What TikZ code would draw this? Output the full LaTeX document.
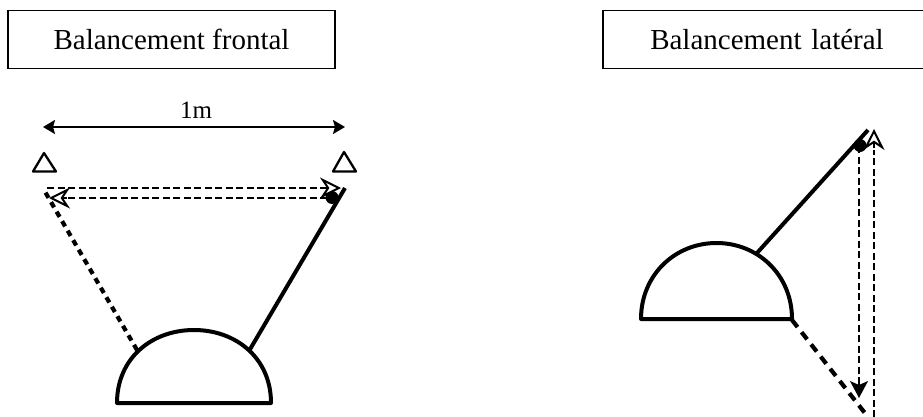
\documentclass[tikz,border=0pt]{standalone}
\usepackage{fontspec}
\setmainfont{Liberation Serif}
\usetikzlibrary{arrows.meta}
\tikzset{
  titlebox/.style={draw,line width=1.3pt,minimum height=58pt,inner sep=0pt,font=\fontsize{29}{32}\selectfont},
  solidarm/.style={line width=4pt},
  dashedarm/.style={line width=4.2pt,dash pattern=on 6pt off 5pt},
  thindash/.style={line width=2pt,dash pattern=on 7pt off 3.5pt},
  dome/.style={line width=4pt,line join=round},
  opentip/.style={-{Stealth[open,fill=white,inset=7pt,length=21pt,width=21pt,line width=2pt]}},
  filledtip/.style={-{Stealth[inset=4pt,length=17pt,width=18pt]}},
  spot/.style={circle,fill=black,inner sep=0pt,minimum size=13pt}
}
\begin{document}
\begin{tikzpicture}[x=1pt,y=-1pt]
\useasboundingbox (0,0) rectangle (923,417);
% title boxes
\node[titlebox,minimum width=327pt] (tf) at (171.5,39.5) {Balancement frontal};
\node[titlebox,minimum width=322pt,text width=322pt,align=center] (tl) at (764,39.5) {\hspace*{6pt}Balancement latéral};
% left figure
\coordinate (la) at (137,350);
\coordinate (lb) at (44,190);
\coordinate (ra) at (249,351);
\coordinate (rb) at (345,188);
\draw[dashedarm] (la) -- (lb);
\draw[solidarm] (ra) -- (rb);
\draw[dome] (117,403) .. controls (117,358) and (152,330) .. (194,330) .. controls (236,330) and (271,358) .. (271,403) -- cycle;
\node[spot] (d1) at (332,197.5) {};
\coordinate (t1a) at (47,188);
\coordinate (t1b) at (341,188);
\coordinate (t2a) at (327,198);
\coordinate (t2b) at (49,198);
\draw[thindash] (t1a) -- (325,188);
\draw[thindash] (t2a) -- (62,198);
\draw[opentip,line width=1.5pt] (323,188) -- (t1b);
\draw[opentip,line width=1.5pt] (67,198) -- (t2b);
\coordinate (w1) at (43,127);
\coordinate (w2) at (345,127);
\draw[line width=2pt,{Stealth[inset=2pt,length=12pt,width=14pt]}-{Stealth[inset=2pt,length=12pt,width=14pt]}] (w1) -- (w2);
\node[font=\fontsize{25}{26}\selectfont,inner sep=0pt] (m) at (196,110) {1m};
\draw[line width=2.3pt,line join=round] (44,153) -- (33,171.5) -- (56,171.5) -- cycle;
\draw[line width=2.3pt,line join=round] (344,152) -- (333,171.5) -- (356,171.5) -- cycle;
% right figure
\coordinate (sa) at (757,253);
\coordinate (sb) at (868,130);
\coordinate (qa) at (792,320);
\coordinate (qb) at (868,417);
\draw[solidarm] (sa) -- (sb);
\draw[dome] (641,319) .. controls (641,275) and (675,243) .. (716.5,243) .. controls (758,243) and (792,275) .. (792,319) -- cycle;
\draw[dashedarm,dash pattern=on 9pt off 6.5pt] (qa) -- (qb);
\node[spot] (d2) at (860,145.5) {};
\coordinate (v1a) at (859,146);
\coordinate (v1b) at (859,398);
\coordinate (v2a) at (874,417);
\coordinate (v2b) at (874,129);
\draw[thindash] (v1a) -- (859,384);
\draw[filledtip,line width=1.5pt] (859,383) -- (v1b);
\draw[thindash] (v2a) -- (874,150);
\draw[opentip,line width=1.5pt] (874,148) -- (v2b);
\end{tikzpicture}
\end{document}
